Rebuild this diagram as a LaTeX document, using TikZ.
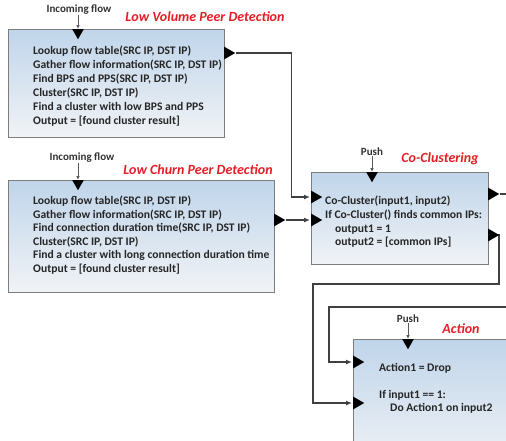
\documentclass[tikz,border=0pt]{standalone}
\usepackage{fontspec}
\setmainfont{Carlito}
\usepackage{tikz}
\usetikzlibrary{positioning}
\usetikzlibrary{shapes.geometric}
\usetikzlibrary{arrows.meta}
\pgfdeclarelayer{background}
\pgfdeclarelayer{foreground}
\pgfsetlayers{background,main,foreground}

\definecolor{boxtop}{RGB}{192,213,234}
\definecolor{boxbot}{RGB}{241,243,246}
\definecolor{boxline}{RGB}{125,125,125}
\definecolor{wire}{RGB}{64,64,64}
\definecolor{titlered}{RGB}{228,30,36}

\begin{document}
\begin{tikzpicture}[x=1pt,y=-1pt,
						block/.style={draw=boxline, line width=0.9pt, top color=boxtop, bottom color=boxbot, anchor=north west, inner sep=0pt},
						body/.style={anchor=north west, inner sep=0pt, align=left, text=black!85, font=\fontsize{11.6}{14}\selectfont\bfseries},
						title/.style={inner sep=0pt, text=titlered, font=\fontsize{14}{16}\selectfont\bfseries\itshape},
						hint/.style={inner sep=0pt, text=black!80, font=\fontsize{11}{12}\selectfont\bfseries},
						port/.style={isosceles triangle, isosceles triangle apex angle=60, fill=black, inner sep=0pt, minimum size=11pt, anchor=lower side},
						portdown/.style={port, shape border rotate=270, minimum size=10pt},
						flow/.style={draw=wire, line width=1.6pt, -{Latex[length=6pt,width=5pt]}, shorten >=1pt},
						feed/.style={draw=black!65, line width=0.8pt, -{Latex[length=4pt,width=3.5pt]}},
						]
						\useasboundingbox (0,0) rectangle (506,440);
						\clip (0,0) rectangle (506,440);
						%Nodes
						\node[block, minimum width=216pt, minimum height=108pt]	(lvbox)	at (8,29)	{};
						\node[block, minimum width=266pt, minimum height=112pt]	(lcbox)	at (8,180)	{};
						\node[block, minimum width=177pt, minimum height=92pt]	(ccbox)	at (311,172)	{};
						\node[block, minimum width=200pt, minimum height=130pt]	(acbox)	at (353,339)	{};

						\node[body]	(lvtext)	at (33,46)	{Lookup flow table(SRC IP, DST IP)\\Gather flow information(SRC IP, DST IP)\\Find BPS and PPS(SRC IP, DST IP)\\Cluster(SRC IP, DST IP)\\Find a cluster with low BPS and PPS\\Output = [found cluster result]};
						\node[body, font=\fontsize{11.6}{13.5}\selectfont\bfseries]	(lctext)	at (33,196)	{Lookup flow table(SRC IP, DST IP)\\Gather flow information(SRC IP, DST IP)\\Find connection duration time(SRC IP, DST IP)\\Cluster(SRC IP, DST IP)\\Find a cluster with long connection duration time\\Output = [found cluster result]};
						\node[body, font=\fontsize{11.6}{13.7}\selectfont\bfseries]	(cctext)	at (325,196)	{Co-Cluster(input1, input2)\\If Co-Cluster() finds common IPs:\\\hspace*{10pt}output1 = 1\\\hspace*{10pt}output2 = [common IPs]};
						\node[body, font=\fontsize{11.6}{13.5}\selectfont\bfseries]	(actext)	at (379,363)	{Action1 = Drop\\[13.5pt]If input1 == 1:\\\hspace*{11pt}Do Action1 on input2};

						\node[hint]	(lvflow)	at (79,10)	{Incoming flow};
						\node[hint]	(lcflow)	at (82,158)	{Incoming flow};
						\node[hint]	(ccpush)	at (372,152)	{Push};
						\node[hint]	(acpush)	at (408,319)	{Push};

						\node[title]	(lvtitle)	at (205,17)	{Low Volume Peer Detection};
						\node[title]	(lctitle)	at (198,170)	{Low Churn Peer Detection};
						\node[title]	(cctitle)	at (440,159)	{Co-Clustering};
						\node[title]	(actitle)	at (461,329)	{Action};

						%Ports
						\node[portdown]	(lvtop)	at (78,29)	{};
						\node[port]	(lvout)	at (224,53)	{};
						\node[portdown]	(lctop)	at (78,180)	{};
						\node[port]	(lcout)	at (274,220)	{};
						\node[portdown]	(cctop)	at (372,172)	{};
						\node[port]	(ccin1)	at (311,197)	{};
						\node[port]	(ccin2)	at (311,220)	{};
						\node[port]	(ccout1)	at (488,194)	{};
						\node[port]	(ccout2)	at (488,235)	{};
						\node[portdown]	(actop)	at (408,339)	{};
						\node[port]	(acin1)	at (353,362)	{};
						\node[port]	(acin2)	at (353,403)	{};

						\begin{pgfonlayer}{background}
						\clip (0,0) rectangle (506,440);
						%Lines
						\draw[feed] (lvflow.south -| lvtop) -- (lvtop.lower side);
						\draw[feed] (lcflow.south -| lctop) -- (lctop.lower side);
						\draw[feed] (ccpush.south -| cctop) -- (cctop.lower side);
						\draw[feed] (acpush.south -| actop) -- (actop.lower side);

						\draw[flow] (lvout.apex) -- ++(56,0) |- (ccin1.lower side);
						\draw[flow] (lcout.apex) -- (ccin2.lower side);
						\draw[flow] (ccout2.apex) -- (499,235) -- (499,284) -- (313,284) |- (acin2.lower side);
						\draw[flow] (ccout1.apex) -- (520,194) -- (520,307) -- (329,307) |- (acin1.lower side);
						\end{pgfonlayer}
					\end{tikzpicture}
\end{document}
